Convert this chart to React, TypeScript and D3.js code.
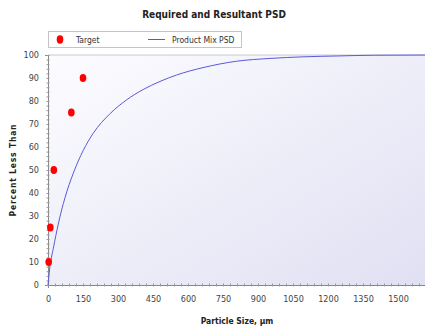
import React, { useEffect, useRef } from "react";
import * as d3 from "d3";

// target points (particle size µm, % less than)
const targetSize = [3, 10, 25, 100, 150];
const targetPct = [10, 25, 50, 75, 90];

// product mix PSD curve
const mixSize = [0, 7, 23, 44, 73, 108, 151, 194, 266, 337, 408, 480, 551, 664, 809, 951, 1093, 1250, 1400, 1650];
const mixPct = [0, 7, 16, 26.5, 38, 48.5, 58.5, 66, 74.5, 80.5, 85, 88.5, 91.3, 94.5, 97.3, 98.5, 99.2, 99.6, 99.9, 100];

const xTicks = [0, 150, 300, 450, 600, 750, 900, 1050, 1200, 1350, 1500];
const yTicks = [0, 10, 20, 30, 40, 50, 60, 70, 80, 90, 100];

export default function App() {
  const ref = useRef<SVGSVGElement>(null);

  useEffect(() => {
    const W = 425, H = 328;
    const left = 48, top = 55, bottom = 285;
    const svg = d3.select(ref.current).html("");
    const font = "'DejaVu Sans Condensed', 'Liberation Sans', sans-serif";

    const x = d3.scaleLinear().domain([0, 1650]).range([left, left + 11 * 35]);
    const y = d3.scaleLinear().domain([0, 100]).range([bottom, top]);

    const defs = svg.append("defs");
    const g = defs.append("linearGradient").attr("id", "bg")
      .attr("x1", "0").attr("y1", "0").attr("x2", "1").attr("y2", "1");
    g.append("stop").attr("offset", "0").attr("stop-color", "#fcfcff");
    g.append("stop").attr("offset", "1").attr("stop-color", "#e0e0f3");

    svg.append("rect").attr("width", W).attr("height", H).attr("fill", "#fff");

    // plot area
    svg.append("rect").attr("x", left).attr("y", top)
      .attr("width", W - left).attr("height", bottom - top).attr("fill", "url(#bg)");
    svg.append("line").attr("x1", left).attr("x2", W).attr("y1", top).attr("y2", top)
      .attr("stroke", "#c8c8d4").attr("stroke-width", 1);

    // title
    svg.append("text").attr("x", 214).attr("y", 18).attr("text-anchor", "middle")
      .attr("font-family", font).attr("font-weight", "bold").attr("font-size", 10)
      .attr("fill", "#222").text("Required and Resultant PSD");

    // legend
    svg.append("rect").attr("x", 48.5).attr("y", 31.5).attr("width", 193).attr("height", 16)
      .attr("fill", "#fff").attr("stroke", "#c4c4c4");
    svg.append("ellipse").attr("cx", 60).attr("cy", 39.5).attr("rx", 3.3).attr("ry", 4.2).attr("fill", "#f00");
    svg.append("text").attr("x", 76).attr("y", 43).attr("font-family", font).attr("font-size", 8.5)
      .attr("fill", "#333").text("Target");
    svg.append("line").attr("x1", 148).attr("x2", 165).attr("y1", 39.5).attr("y2", 39.5)
      .attr("stroke", "#5555dd").attr("stroke-width", 1);
    svg.append("text").attr("x", 172).attr("y", 43).attr("font-family", font).attr("font-size", 8.5)
      .attr("fill", "#333").text("Product Mix PSD");

    // axes
    const xAxis = svg.append("g").attr("transform", `translate(0,${bottom})`);
    xAxis.call(d3.axisBottom(x).tickValues(d3.range(0, 1651, 30)).tickSize(3).tickFormat(() => ""));
    xAxis.select(".domain").attr("stroke", "#888");
    xAxis.selectAll(".tick line").attr("stroke", "#999").attr("transform", "translate(0,-1.5)");
    const xMaj = svg.append("g").attr("transform", `translate(0,${bottom})`);
    xMaj.call(d3.axisBottom(x).tickValues(xTicks).tickSize(0).tickPadding(11).tickFormat(d3.format("d")));
    xMaj.select(".domain").remove();
    xMaj.selectAll("text").attr("font-family", font).attr("font-size", 9).attr("fill", "#444");

    const yAxis = svg.append("g").attr("transform", `translate(${left},0)`);
    yAxis.call(d3.axisLeft(y).tickValues(d3.range(0, 101, 2)).tickSize(3).tickFormat(() => ""));
    yAxis.select(".domain").attr("stroke", "#888");
    yAxis.selectAll(".tick line").attr("stroke", "#999").attr("transform", "translate(1.5,0)");
    const yMaj = svg.append("g").attr("transform", `translate(${left},0)`);
    yMaj.call(d3.axisLeft(y).tickValues(yTicks).tickSize(0).tickPadding(9));
    yMaj.select(".domain").remove();
    yMaj.selectAll("text").attr("font-family", font).attr("font-size", 9).attr("fill", "#444");

    // axis titles
    svg.append("text").attr("x", 237).attr("y", 324).attr("text-anchor", "middle")
      .attr("font-family", font).attr("font-weight", "bold").attr("font-size", 8.5)
      .attr("fill", "#222").text("Particle Size, µm");
    svg.append("text").attr("transform", "translate(16,170) rotate(-90)").attr("text-anchor", "middle")
      .attr("font-family", font).attr("font-weight", "bold").attr("font-size", 8.5)
      .attr("letter-spacing", 0.8).attr("fill", "#222").text("Percent Less Than");

    // curve
    const line = d3.line<number>().x((d, i) => x(mixSize[i])).y((d) => y(d)).curve(d3.curveMonotoneX);
    svg.append("path").datum(mixPct).attr("d", line).attr("fill", "none")
      .attr("stroke", "#5a5ad8").attr("stroke-width", 1);

    // targets
    svg.append("g").selectAll("ellipse").data(targetPct).enter().append("ellipse")
      .attr("cx", (d, i) => x(targetSize[i])).attr("cy", (d) => y(d))
      .attr("rx", 3.3).attr("ry", 4).attr("fill", "#f00");
  }, []);

  return (
    <div style={{ position: "absolute", left: 0, top: 0 }}>
      <svg ref={ref} width={425} height={328} style={{ display: "block" }} />
    </div>
  );
}
